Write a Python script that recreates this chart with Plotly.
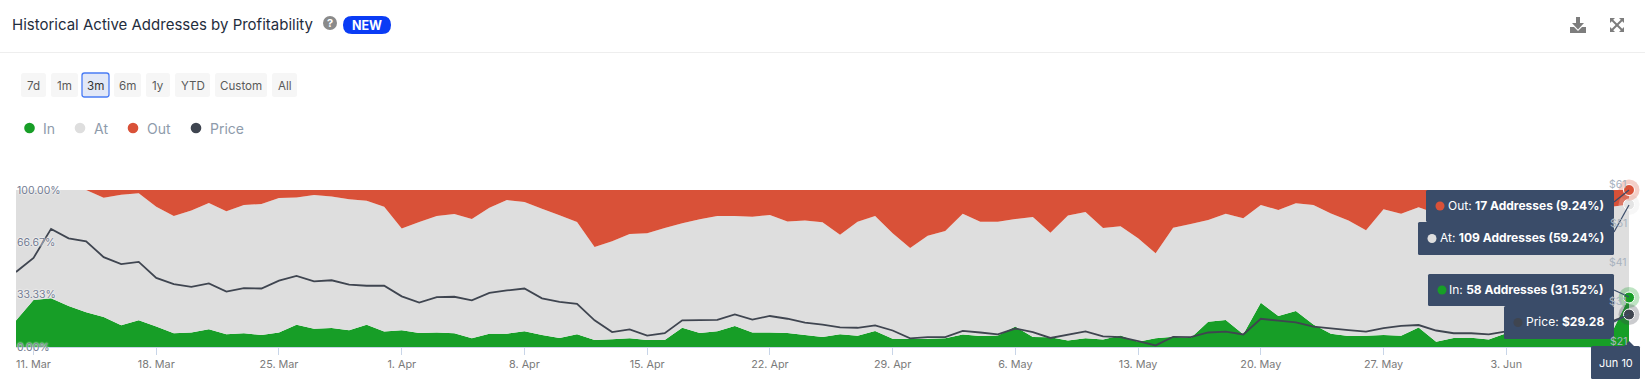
import pandas as pd
import plotly.graph_objects as go

START_DATE = "2024-03-10"
END_DATE = "2024-06-10"
dates = pd.date_range(START_DATE, END_DATE, freq="D")
week_ticks = pd.date_range("2024-03-11", "2024-06-03", freq="7D")

in_pct = [16.8,29.9,31.0,26.1,22.1,19.1,13.8,17.0,13.0,8.7,9.3,11.3,8.1,8.7,7.6,9.3,14.2,11.7,12.1,10.6,14.2,9.8,
          10.6,8.9,9.3,8.7,5.5,8.5,8.5,10.0,7.6,5.7,8.1,4.5,4.9,5.5,4.5,4.5,12.3,8.9,10.0,13.4,9.3,9.3,8.9,7.6,6.4,8.1,7.2,10.2,5.3,5.1,
          5.3,5.5,7.9,7.0,7.4,13.0,6.4,6.2,4.2,5.5,4.7,7.4,3.4,5.5,6.6,5.7,16.1,17.2,8.1,28.2,19.7,22.9,14.4,8.5,7.0,7.2,7.6,7.2,12.5,3.4,5.7,
          5.9,4.7,8.7,8.3,7.9,7.6,7.4,7.2,8.7,31.52]
at_pct = [83.2,70.1,69.0,73.9,77.9,76.0,83.2,80.9,76.4,74.7,77.7,80.4,78.3,81.7,83.5,85.6,81.1,85.1,83.7,83.5,79.0,79.6,
          64.8,70.7,74.1,76.0,76.0,80.2,85.1,82.4,80.5,78.2,71.5,59.2,62.4,66.5,67.9,71.3,66.5,72.4,73.4,70.0,73.7,74.8,71.1,72.9,73.0,63.4,72.6,73.2,67.1,58.0,
          65.6,68.4,77.0,72.8,72.4,68.5,76.4,66.6,79.5,80.5,71.1,69.5,65.8,54.2,69.4,72.6,64.8,67.7,73.9,62.2,67.6,68.6,76.0,76.6,73.5,67.1,80.1,77.7,76.5,81.7,82.6,
          80.3,84.7,78.6,82.1,80.4,83.9,82.0,80.1,80.7,59.24]
out_pct = [0,0,0,0,0,4.9,3.0,2.1,10.6,16.6,13.0,8.3,13.6,9.6,8.9,5.1,4.7,3.2,4.2,5.9,6.8,10.6,
           24.6,20.4,16.6,15.3,18.5,11.3,6.4,7.6,11.9,16.1,20.4,36.3,32.7,28.0,27.6,24.2,21.2,18.7,16.6,16.6,17.0,15.9,20.0,19.5,20.6,28.5,20.2,16.6,27.6,36.9,
           29.1,26.1,15.1,20.2,20.2,18.5,17.2,27.2,16.3,14.0,24.2,23.1,30.8,40.3,24.0,21.7,19.1,15.1,18.0,9.6,12.7,8.5,9.6,14.9,19.5,25.7,12.3,15.1,11.0,14.9,11.7,
           13.8,10.6,12.7,9.6,11.7,8.5,10.6,12.7,10.6,9.24]
price = [40.1,43.7,51.1,48.7,47.9,43.9,42.1,42.7,38.6,37.0,36.3,37.2,35.1,36.0,35.9,37.9,39.1,37.7,38.0,36.9,36.6,36.6,
         33.9,32.3,33.7,33.8,32.9,34.8,35.4,35.9,33.4,32.5,32.0,27.8,24.8,25.5,23.9,24.5,27.8,27.9,27.9,29.3,28.0,28.9,28.2,27.2,26.7,26.0,25.9,26.5,25.2,23.2,
         23.5,23.5,25.1,24.7,24.2,25.7,24.8,23.3,24.1,25.0,23.7,23.5,22.5,21.4,23.6,23.5,24.7,24.9,24.2,28.2,27.7,27.3,26.2,25.7,25.3,24.9,25.8,26.4,26.6,25.2,24.5,
         24.5,24.2,25.0,25.2,25.4,25.6,25.3,25.8,27.5,29.28]

pct_ticks = [0, 33.33, 66.67, 100]
pct_labels = ["0.00%", "33.33%", "66.67%", "100.00%"]
price_ticks = [21, 31, 41, 51, 61]
price_labels = ["$21", "$31", "$41", "$51", "$61"]

chart_title = "Historical Active Addresses by Profitability"
range_buttons = ["7d", "1m", "3m", "6m", "1y", "YTD", "Custom", "All"]
legend_names = ["In", "At", "Out", "Price"]
tooltip_texts = ["Out: <b>17 Addresses (9.24%)</b>", "At: <b>109 Addresses (59.24%)</b>",
                 "In: <b>58 Addresses (31.52%)</b>", "Price: <b>$29.28</b>"]
tooltip_date = "Jun 10"

GREEN, GREY, RED, DARK = "#179e27", "#dedede", "#d95138", "#3f4550"
NAVY = "#3a4c69"
FONT = "Inter"
W, H = 1645, 385
L, R, T, B = 16, 1629, 190, 347


def px(x):
    return (x - L) / (R - L)


def py(y):
    return (B - y) / (B - T)


def rrect(x0, y0, x1, y1, r):
    a = f"M{px(x0+r)},{py(y0)} L{px(x1-r)},{py(y0)} Q{px(x1)},{py(y0)} {px(x1)},{py(y0+r)} "
    b = f"L{px(x1)},{py(y1-r)} Q{px(x1)},{py(y1)} {px(x1-r)},{py(y1)} "
    c = f"L{px(x0+r)},{py(y1)} Q{px(x0)},{py(y1)} {px(x0)},{py(y1-r)} "
    d = f"L{px(x0)},{py(y0+r)} Q{px(x0)},{py(y0)} {px(x0+r)},{py(y0)} Z"
    return a + b + c + d


def poly(points):
    return "M" + " L".join(f"{px(x)},{py(y)}" for x, y in points) + " Z"


shapes, annos = [], []


def box(x0, y0, x1, y1, r, fill, line=None, lw=0):
    shapes.append(dict(type="path", xref="paper", yref="paper", path=rrect(x0, y0, x1, y1, r),
                       fillcolor=fill, line=dict(color=line or fill, width=lw)))


def dot(cx, cy, r, fill):
    shapes.append(dict(type="circle", xref="paper", yref="paper", x0=px(cx-r), x1=px(cx+r),
                       y0=py(cy+r), y1=py(cy-r), fillcolor=fill, line=dict(width=0)))


def seg(x0, y0, x1, y1, color, w=1.2):
    shapes.append(dict(type="line", xref="paper", yref="paper", x0=px(x0), x1=px(x1),
                       y0=py(y0), y1=py(y1), line=dict(color=color, width=w)))


def text(x, y, s, size, color, anchor="left"):
    annos.append(dict(xref="paper", yref="paper", x=px(x), y=py(y), text=s, showarrow=False,
                      xanchor=anchor, yanchor="middle", borderpad=0, borderwidth=0,
                      font=dict(family=FONT, size=size, color=color)))


# axis labels sit inside the plot on both sides
for val, label in zip(pct_ticks, pct_labels):
    annos.append(dict(xref="paper", yref="y", x=0, y=val, text=label, showarrow=False,
                      xanchor="left", yanchor="middle", xshift=-1,
                      font=dict(family=FONT, size=10.5, color="#737c92",
                                shadow="0 0 2px #ffffff, 0 0 2px #ffffff")))
for val, label in zip(price_ticks, price_labels):
    annos.append(dict(xref="paper", yref="y2", x=1, y=val, text=label, showarrow=False,
                      xanchor="right", yanchor="middle", yshift=6,
                      font=dict(family=FONT, size=10.5, color="#a9b3bf")))

# header
text(12, 24.5, chart_title, 15, "#1f2d3d")
dot(330, 23, 7, "#8a8a8a")
text(330, 23, "<b>?</b>", 11, "#ffffff", "center")
box(343, 16, 391, 34, 9, "#0a3cf5")
text(367, 25, "<b>NEW</b>", 12.5, "#ffffff", "center")
seg(0, 52.5, W, 52.5, "#eeeeee", 1)

# download + expand icons
ICON = "#7d7d7d"
shapes.append(dict(type="path", xref="paper", yref="paper", fillcolor=ICON, line=dict(width=0),
                   path=poly([(1576, 17), (1580, 17), (1580, 23), (1584, 23), (1578, 29.5), (1572, 23), (1576, 23)])))
shapes.append(dict(type="path", xref="paper", yref="paper", fillcolor=ICON, line=dict(width=0),
                   path=poly([(1570, 27), (1574, 27), (1578, 31), (1582, 27), (1586, 27), (1586, 33), (1570, 33)])))
for cx, cy, sx, sy in [(1610, 18, 1, 1), (1624, 18, -1, 1), (1610, 32, 1, -1), (1624, 32, -1, -1)]:
    shapes.append(dict(type="path", xref="paper", yref="paper", fillcolor=ICON, line=dict(width=0),
                       path=poly([(cx, cy), (cx + 5*sx, cy), (cx, cy + 5*sy)])))
seg(1612, 20, 1622, 30, ICON, 2)
seg(1622, 20, 1612, 30, ICON, 2)

# range buttons
btn_edges = [(21, 46), (51, 78), (82, 109), (114, 141), (146, 170), (175, 210), (215, 267), (272, 297)]
for label, (x0, x1) in zip(range_buttons, btn_edges):
    selected = label == "3m"
    box(x0, 73, x1, 97, 2.5, "#e2e8f7" if selected else "#f6f6f6", "#4a7cf5" if selected else None, 1.3 if selected else 0)
    text((x0 + x1) / 2, 86, label, 11.6, "#333333" if selected else "#5a5a5a", "center")

# legend
legend_pos = [(29.5, 42.5, GREEN), (80, 93.5, GREY), (133, 146.5, RED), (196, 209.5, DARK)]
for name, (cx, tx, col) in zip(legend_names, legend_pos):
    dot(cx, 128, 5.3, col)
    text(tx, 128, name, 14, "#8e9bab")

# tooltips
tips = [(1426, 190, 1614, 222, 1440, RED), (1418, 222, 1614, 255, 1432, GREY),
        (1428, 274, 1614, 306, 1442, GREEN), (1504, 306, 1614, 339, 1518, DARK)]
conn = [(1614, 202, 1629, 190), (1614, 232, 1629, 205), (1614, 290, 1629, 297), (1614, 322, 1629, 314)]
for c in conn:
    seg(*c, NAVY, 1.2)
for s, (x0, y0, x1, y1, dx, col) in zip(tooltip_texts, tips):
    box(x0, y0, x1, y1, 1.5, NAVY)
    cy = (y0 + y1) / 2
    dot(dx, cy, 4.5, col)
    text(1604, cy - 1, s, 12, "#ffffff", "right")
box(1591, 346, 1640, 379, 1.5, NAVY)
shapes.append(dict(type="path", xref="paper", yref="paper", fillcolor=NAVY, line=dict(width=0),
                   path=poly([(1624, 346), (1629, 341), (1634, 346)])))
text(1615.5, 362.5, tooltip_date, 11, "#ffffff", "center")

fig = go.Figure()
for name, vals, col in [("In", in_pct, GREEN), ("At", at_pct, GREY), ("Out", out_pct, RED)]:
    fig.add_trace(go.Scatter(x=dates, y=vals, name=name, mode="none", stackgroup="pct",
                             fillcolor=col, line=dict(width=0), hoverinfo="skip"))
fig.add_trace(go.Scatter(x=dates, y=price, name="Price", mode="lines", yaxis="y2",
                         line=dict(color=DARK, width=1.8), hoverinfo="skip"))

# hover markers on the last day
last_stack = [in_pct[-1], in_pct[-1] + at_pct[-1], in_pct[-1] + at_pct[-1] + out_pct[-1]]
for val, col in zip(last_stack, [GREEN, "#e4e4e4", RED]):
    fig.add_trace(go.Scatter(x=[dates[-1]], y=[val], mode="markers", cliponaxis=False, hoverinfo="skip",
                             marker=dict(size=21, color=col, opacity=0.28)))
    fig.add_trace(go.Scatter(x=[dates[-1]], y=[val], mode="markers", cliponaxis=False, hoverinfo="skip",
                             marker=dict(size=11, color=col, line=dict(color="#ffffff", width=1))))
fig.add_trace(go.Scatter(x=[dates[-1]], y=[price[-1]], mode="markers", yaxis="y2", cliponaxis=False, hoverinfo="skip",
                         marker=dict(size=21, color=DARK, opacity=0.28)))
fig.add_trace(go.Scatter(x=[dates[-1]], y=[price[-1]], mode="markers", yaxis="y2", cliponaxis=False, hoverinfo="skip",
                         marker=dict(size=11, color=DARK, line=dict(color="#ffffff", width=1))))

fig.update_layout(
    width=W, height=H, autosize=False, showlegend=False,
    margin=dict(l=L, r=W - R, t=T, b=H - B, pad=0),
    paper_bgcolor="#ffffff", plot_bgcolor="#ffffff",
    font=dict(family=FONT),
    shapes=shapes, annotations=annos,
    xaxis=dict(type="date", range=[START_DATE, END_DATE], tickvals=list(week_ticks),
               tickformat="%-d. %b", ticks="outside", ticklen=7, tickwidth=1, tickcolor="#c8d5e8",
               showline=True, linecolor="#c8d5e8", linewidth=1, showgrid=False, zeroline=False,
               tickfont=dict(family=FONT, size=10.8, color="#7a7a7a")),
    yaxis=dict(range=[0, 100], showticklabels=False, showgrid=False, zeroline=False, showline=False, ticks=""),
    yaxis2=dict(range=[21, 61], overlaying="y", side="right", showticklabels=False, showgrid=False,
                zeroline=False, showline=False, ticks=""),
)

fig.write_html("out.html", config=dict(displayModeBar=False),
               post_script="document.body.style.margin='0';document.body.style.overflow='hidden';")
